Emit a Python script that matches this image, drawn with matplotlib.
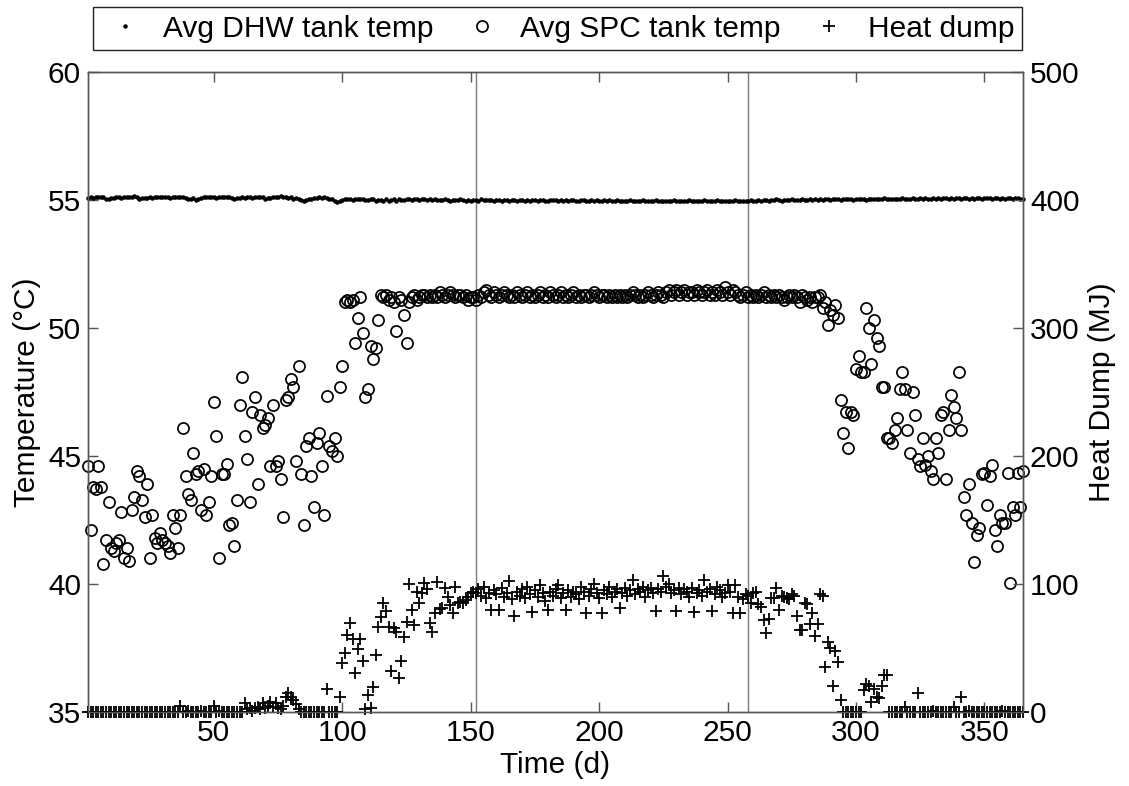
import numpy as np
import matplotlib.pyplot as plt

plt.rcParams['font.family'] = ['Liberation Sans', 'DejaVu Sans']
plt.rcParams['font.size'] = 21.5

# average DHW tank temperature (deg C), one value per day
dhw_temp = [
    55.08, 55.10, 55.09, 55.12, 55.11, 55.13, 55.10, 55.04, 55.03, 55.08,
    55.09, 55.10, 55.11, 55.09, 55.12, 55.10, 55.11, 55.13, 55.14, 55.10,
    55.03, 55.06, 55.09, 55.08, 55.10, 55.09, 55.10, 55.12, 55.11, 55.13,
    55.12, 55.10, 55.09, 55.11, 55.10, 55.12, 55.13, 55.11, 55.07, 55.04,
    55.02, 55.06, 55.00, 55.04, 55.09, 55.10, 55.10, 55.11, 55.12, 55.10,
    55.09, 55.11, 55.12, 55.13, 55.11, 55.10, 55.08, 55.04, 55.07, 55.09,
    55.10, 55.08, 55.11, 55.10, 55.09, 55.12, 55.11, 55.13, 55.10, 55.04,
    55.06, 55.09, 55.10, 55.12, 55.13, 55.14, 55.13, 55.10, 55.08, 55.12,
    55.05, 55.07, 55.04, 55.00, 54.97, 55.00, 55.03, 55.05, 55.06, 55.09,
    55.10, 55.08, 55.11, 55.07, 55.05, 55.03, 54.97, 54.94, 54.98, 55.00,
    55.02, 55.03, 55.02, 55.01, 55.03, 55.04, 55.03, 55.05, 55.01, 55.00,
    55.04, 55.02, 54.97, 55.01, 55.00, 54.96, 55.02, 54.97, 55.00, 55.03,
    54.96, 55.02, 55.01, 54.99, 55.03, 55.02, 55.01, 55.03, 55.02, 55.00,
    55.03, 55.02, 55.01, 55.02, 55.00, 55.03, 55.01, 54.99, 55.00, 55.02,
    55.01, 54.98, 55.00, 55.01, 54.99, 55.02, 55.00, 54.98, 55.00, 54.97,
    55.01, 55.00, 54.98, 55.02, 55.00, 54.99, 55.01, 55.00, 54.97, 54.99,
    55.00, 54.98, 55.01, 55.00, 54.97, 54.99, 55.00, 54.98, 55.01, 54.99,
    54.97, 55.00, 54.98, 54.99, 55.01, 54.96, 54.99, 55.00, 54.98, 54.97,
    55.00, 54.99, 55.01, 54.98, 54.99, 54.97, 55.00, 54.98, 55.00, 54.99,
    54.97, 54.98, 55.00, 54.99, 54.96, 54.98, 55.00, 54.97, 54.99, 54.98,
    54.96, 54.99, 54.97, 55.00, 54.98, 54.96, 54.99, 54.97, 54.95, 54.98,
    54.97, 55.00, 54.96, 54.98, 54.95, 54.97, 54.99, 54.96, 54.98, 54.95,
    54.97, 54.99, 54.96, 54.98, 54.97, 54.95, 54.98, 54.96, 54.99, 54.97,
    54.95, 54.98, 54.96, 54.97, 54.99, 54.95, 54.97, 54.96, 54.98, 54.97,
    54.99, 54.96, 54.98, 54.95, 54.97, 54.99, 54.96, 54.98, 54.97, 54.95,
    54.98, 54.96, 54.99, 54.97, 54.95, 54.98, 54.96, 54.97, 55.00, 54.98,
    54.97, 55.00, 54.98, 54.99, 55.01, 54.98, 55.00, 54.99, 55.02, 55.00,
    54.98, 55.01, 54.99, 55.00, 55.02, 54.99, 55.01, 55.00, 55.02, 54.99,
    55.01, 55.03, 55.00, 55.02, 55.01, 55.03, 55.00, 55.02, 55.04, 55.01,
    55.03, 55.02, 55.04, 55.01, 55.03, 55.02, 55.04, 55.03, 55.01, 55.04,
    55.02, 55.05, 55.03, 55.01, 55.04, 55.03, 55.05, 55.02, 55.04, 55.03,
    55.06, 55.03, 55.05, 55.04, 55.02, 55.05, 55.04, 55.06, 55.03, 55.05,
    55.04, 55.06, 55.03, 55.05, 55.07, 55.04, 55.06, 55.05, 55.03, 55.06,
    55.05, 55.07, 55.04, 55.06, 55.08, 55.05, 55.07, 55.04, 55.06, 55.08,
    55.05, 55.07, 55.06, 55.04, 55.07, 55.05, 55.08, 55.06, 55.04, 55.07,
    55.06, 55.08, 55.05, 55.07, 55.06, 55.04, 55.07, 55.05, 55.08, 55.06,
    55.03, 55.06, 55.08, 55.05, 55.02,
]

# average SPC tank temperature (deg C), one value per day
spc_temp = [
    44.6, 42.1, 43.8, 43.7, 44.6, 43.8, 40.8, 41.7, 43.2, 41.4,
    41.3, 41.6, 41.7, 42.8, 41.0, 41.4, 40.9, 42.9, 43.4, 44.4,
    44.2, 43.3, 42.6, 43.9, 41.0, 42.7, 41.8, 41.6, 42.0, 41.7,
    41.6, 41.5, 41.2, 42.7, 42.2, 41.4, 42.7, 46.1, 44.2, 43.5,
    43.3, 45.1, 44.3, 44.4, 42.9, 44.5, 42.7, 43.2, 44.2, 47.1,
    45.8, 41.0, 44.3, 44.3, 44.7, 42.3, 42.4, 41.5, 43.3, 47.0,
    48.1, 45.8, 44.9, 43.2, 46.7, 47.3, 43.9, 46.6, 46.1,
    46.2, 46.5, 44.6, 47.0, 44.6, 44.8, 44.1, 42.6, 47.2, 47.3,
    48.0, 47.7, 44.8, 48.5, 44.3, 42.3, 45.4, 45.7, 44.2, 43.0,
    45.5, 45.9, 44.6, 42.7, 47.35, 45.4, 45.2, 45.7, 45.0, 47.7,
    48.5, 51.0, 51.1, 51.0, 51.1, 49.4, 50.4, 51.2, 49.8, 47.3,
    47.6, 49.3, 48.8, 49.2, 50.3, 51.3, 51.2, 51.3, 51.1, 51.2,
    51.0, 49.9, 51.2, 51.1, 50.5, 49.4, 51.0, 51.2, 51.3, 51.1,
    51.2, 51.3, 51.3, 51.2, 51.3, 51.2,
    51.3, 51.2, 51.4, 51.3, 51.2, 51.3, 51.4, 51.3, 51.2, 51.3,
    51.3, 51.2, 51.3, 51.1, 51.2, 51.2, 51.1, 51.3, 51.2, 51.4,
    51.5, 51.3, 51.2, 51.4, 51.3, 51.2, 51.3, 51.4, 51.3, 51.2,
    51.3, 51.2, 51.4, 51.3, 51.2, 51.3, 51.4, 51.2, 51.3, 51.2,
    51.3, 51.4, 51.2, 51.3, 51.2, 51.4, 51.3, 51.2, 51.3, 51.4,
    51.2, 51.3, 51.2, 51.3, 51.4, 51.2, 51.3, 51.2, 51.3, 51.3,
    51.2, 51.3, 51.4, 51.3, 51.2, 51.3, 51.3, 51.2, 51.3, 51.2,
    51.3, 51.2, 51.3, 51.2, 51.3, 51.2, 51.3, 51.4, 51.3, 51.2,
    51.3, 51.2, 51.3, 51.4, 51.3, 51.2, 51.3, 51.4, 51.3, 51.2,
    51.4, 51.5, 51.3, 51.4, 51.5, 51.3, 51.4, 51.5, 51.3, 51.4,
    51.4, 51.3, 51.5, 51.4, 51.3, 51.4, 51.5, 51.3, 51.4, 51.3,
    51.5, 51.4, 51.3, 51.6, 51.4, 51.3, 51.5, 51.4, 51.3, 51.2,
    51.3, 51.4, 51.2, 51.3, 51.2, 51.3, 51.2, 51.3, 51.4, 51.2,
    51.3, 51.2, 51.3, 51.2, 51.3, 51.2, 51.1, 51.2, 51.3, 51.2,
    51.3, 51.2, 51.0, 51.3, 51.2, 51.1, 51.2, 51.0, 51.2,
    51.2, 51.3, 50.8, 51.0, 50.1, 50.7, 50.5, 50.9,
    50.4, 47.2, 45.9, 46.7, 45.3, 46.7, 46.6, 48.4, 48.9, 48.3,
    48.3, 50.8, 50.0, 48.6, 50.3, 49.6, 49.3, 47.7, 47.7, 45.7,
    45.7, 45.5, 46.0, 46.5, 47.6, 48.3, 47.6, 46.0, 45.1, 47.5,
    46.6, 44.9, 44.6, 45.7, 44.65, 45.0, 44.4, 44.1, 45.7, 45.1,
    46.6, 46.7, 44.1, 46.0, 47.4, 46.9, 46.5, 48.3, 46.0, 43.4,
    42.7, 43.9, 42.4, 40.85, 41.9, 42.2, 44.3, 44.35, 43.1, 44.2,
    44.65, 42.1, 41.5, 42.7, 42.4, 42.4, 44.35, 40.05, 43.0, 42.7,
    44.35, 43.0, 44.4,
]

# heat dump (MJ), one value per day
heat_dump = [
    0, 0, 0, 0, 0, 0, 0, 0, 0, 0,
    0, 0, 0, 0, 0, 0, 0, 0, 0, 0,
    0, 0, 0, 0, 0, 0, 0, 0, 0, 0,
    0, 0, 0, 0, 0, 0, 5, 0, 0, 1,
    0, 0, 0, 0, 1, 0, 0, 0, 0, 5,
    0, 1, 0, 0, 0, 0, 0, 0, 0, 0,
    0, 7, 2, 3, 1, 3, 4, 2, 7, 3,
    5, 8, 4, 7, 3, 2, 5, 12, 15, 12,
    9, 6, 2, 0, 0, 0, 0, 0, 0, 0,
    0, 0, 0, 18, 0, 0, 0, 0, 12,
    38.5, 45.8, 60.2, 69.8, 56.8, 30.7, 49.0, 56.8, 40.1, 2.1,
    13.3, 2.9, 19.3, 44.5, 66.1, 74.5, 84.9, 79.2, 66.7, 32.3,
    65.4, 62.8, 26.3, 40.1, 58.3, 70.6, 100.0, 79.7, 68.0, 94.0,
    85.4, 92.7, 101.0, 95.8, 69.8, 62.8, 77.1, 101.8, 80.2, 81.0,
    96.6, 90.1, 83.6, 77.1, 97.9, 85.4, 86.2, 84.9, 87.5, 90.1,
    92.7, 94.0,
    93, 96, 91, 98, 89, 93, 80, 95, 92, 80,
    97, 90, 93, 102, 88, 75, 94, 91, 96, 89,
    98, 92, 78, 95, 90, 99, 93, 87, 80, 94,
    91, 96, 99, 89, 93, 80, 95, 90, 94, 92,
    88, 98, 94, 77, 91, 96, 100, 93, 89, 77,
    95, 92, 98, 90, 94, 96, 81, 93, 97, 91,
    95, 103, 92, 96, 94, 98, 90, 95, 97, 93,
    79, 96, 94, 106, 98, 100, 93, 95, 79, 97,
    92, 96, 94, 90, 97, 78, 93, 95, 91, 103,
    94, 96, 79, 92, 98, 95, 90, 93, 99, 94,
    77, 99, 90, 77, 88, 92, 91, 85, 93, 94,
    84, 82, 72, 62, 73, 89, 89, 97, 80, 91,
    90, 89, 88, 92, 91, 75, 64, 64, 85, 84,
    69, 77, 59, 69, 92, 91, 35, 55, 50, 20,
    48, 39, 9,
    0, 0, 0, 0, 0, 0, 0, 0,
    17, 22, 20, 8, 18, 12, 11, 20, 29, 29,
    0, 0, 0, 0, 0, 0, 4, 0, 0, 0,
    0, 15, 0, 0, 0, 0, 0, 1, 0, 0,
    0, 0, 0, 0, 0, 4, 0, 0, 12, 0,
    0, 1, 0, 0, 0, 0, 0, 0, 0, 0,
    0, 0, 0, 0, 1, 0, 0, 0, 0, 0,
    0, 0, 0,
]

season_marks = [152, 258]

fig = plt.figure(figsize=(11.29, 7.86), dpi=100)
ax = fig.add_axes([88 / 1129, 74 / 786, 935 / 1129, 640 / 786])
ax2 = ax.twinx()

for d in season_marks:
    ax.axvline(d, color='#7a7a7a', lw=1, zorder=1)

h1, = ax.plot(np.arange(1, len(dhw_temp) + 1), dhw_temp, '.', color='k',
              ms=4.5, clip_on=False, label='Avg DHW tank temp')
h2, = ax.plot(np.arange(1, len(spc_temp) + 1), spc_temp, 'o', mfc='none',
              mec='k', ms=8, mew=1.25, clip_on=False, label='Avg SPC tank temp')
h3, = ax2.plot(np.arange(1, len(heat_dump) + 1), heat_dump, '+', color='k',
               ms=9, mew=1.3, clip_on=False, label='Heat dump')

ax.set_xlim(1, 365)
ax.set_ylim(35, 60)
ax2.set_ylim(0, 500)
ax.set_xticks(range(50, 351, 50))
ax.set_yticks(range(35, 61, 5))
ax2.set_yticks(range(0, 501, 100))

ax.set_xlabel('Time (d)', labelpad=3)
ax.set_ylabel('Temperature (°C)', labelpad=5)
ax2.set_ylabel('Heat Dump (MJ)', labelpad=6)

spine_col = '#555555'
for a in (ax, ax2):
    for s in a.spines.values():
        s.set_color(spine_col)
        s.set_linewidth(1)
ax.tick_params(axis='both', direction='in', length=7, width=1,
               color=spine_col, pad=5, top=True)
ax2.tick_params(axis='y', direction='in', length=7, width=1,
                color=spine_col, pad=5)

leg = ax.legend(handles=[h1, h2, h3], loc='lower center',
                bbox_to_anchor=(0.502, 1.034), ncol=3, fancybox=False,
                edgecolor='#222222', framealpha=1, borderpad=0.25,
                handlelength=1.6, handletextpad=0.5, columnspacing=0.8,
                borderaxespad=0)
leg.get_frame().set_linewidth(1)

fig.savefig('out.png', dpi=100)
